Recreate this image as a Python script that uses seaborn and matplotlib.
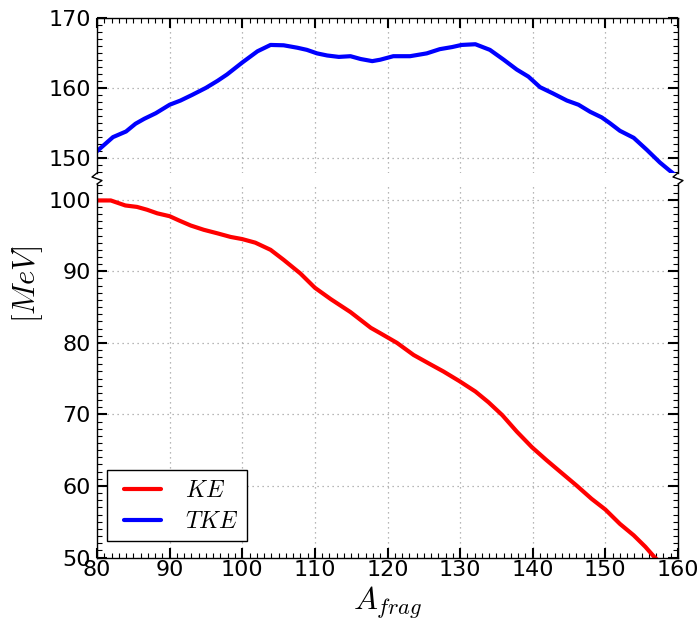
import numpy as np
import pandas as pd
import matplotlib
matplotlib.use("Agg")
import matplotlib.pyplot as plt
from matplotlib.lines import Line2D
from matplotlib.legend_handler import HandlerLine2D
from matplotlib.ticker import MultipleLocator
import seaborn as sns

# ---- data ----
tke_A = [80, 82.2, 84, 85.3, 86.5, 88.1, 90, 91.5, 93.1, 95, 96.6, 97.9, 100, 102.1,
         103.9, 105.7, 107.6, 108.9, 110.3, 111.7, 113.3, 114.9, 116.3, 117.9, 119,
         120.8, 123.1, 125.4, 127.2, 128.9, 130.2, 132.1, 134.1, 136, 137.8, 139.4,
         141, 142.8, 144.7, 146.3, 147.9, 149.5, 150.6, 152, 153.9, 155.7, 157.5,
         158.9, 160]
tke_E = [151.0, 153.0, 153.8, 154.9, 155.6, 156.4, 157.6, 158.2, 159.0, 160.0, 161.0,
         161.9, 163.6, 165.2, 166.1, 166.05, 165.7, 165.4, 164.9, 164.6, 164.4, 164.5,
         164.1, 163.8, 164.0, 164.5, 164.5, 164.9, 165.5, 165.8, 166.1, 166.2, 165.4,
         164.0, 162.6, 161.6, 160.1, 159.2, 158.2, 157.6, 156.6, 155.8, 155.0, 153.9,
         152.9, 151.2, 149.4, 148.2, 147.3]
ke_A = [80, 81.9, 83.9, 85.5, 86.9, 88.3, 90, 91.3, 92.9, 94.7, 96.6, 98.4, 100, 101.8,
        103.9, 105.7, 108, 110, 112.2, 114.9, 117.7, 119, 121.3, 123.6, 125.9, 127.7,
        129.9, 132.1, 133.9, 135.8, 137.8, 139.9, 141.9, 144, 146.1, 148.1, 150, 152,
        153.9, 155.5, 156.8, 158]
ke_E = [99.9, 99.9, 99.2, 99.0, 98.6, 98.1, 97.7, 97.1, 96.4, 95.8, 95.3, 94.8, 94.5,
        94.0, 93.0, 91.6, 89.7, 87.7, 86.1, 84.3, 82.1, 81.35, 80.0, 78.3, 77.0, 76.0,
        74.65, 73.2, 71.7, 69.9, 67.6, 65.4, 63.6, 61.8, 60.0, 58.2, 56.7, 54.7, 53.1,
        51.5, 50.0, 48.9]
series_names = ["KE", "TKE"]
series_labels = [r"$KE$", r"$TKE$"]
series_colors = {"KE": "#ff0000", "TKE": "#0000ff"}
x_ticks = [80, 90, 100, 110, 120, 130, 140, 150, 160]
top_yticks = [150, 160, 170]
bot_yticks = [50, 60, 70, 80, 90, 100]

df = pd.concat([
    pd.DataFrame({"A": ke_A, "E": ke_E, "s": "KE"}),
    pd.DataFrame({"A": tke_A, "E": tke_E, "s": "TKE"}),
], ignore_index=True)

sns.set_style("white")
plt.rcParams["font.family"] = ["DejaVu Sans"]
plt.rcParams["mathtext.fontset"] = "cm"
plt.rcParams["text.color"] = "black"
plt.rcParams["axes.labelcolor"] = "black"
plt.rcParams["xtick.color"] = "black"
plt.rcParams["ytick.color"] = "black"

W, H = 697, 621
fig = plt.figure(figsize=(W / 100, H / 100), dpi=100)

L, R = 97, 678
top_t, top_b = 17.5, 173
bot_t, bot_b = 184, 557.5
ax_top = fig.add_axes([L / W, 1 - top_b / H, (R - L) / W, (top_b - top_t) / H])
ax_bot = fig.add_axes([L / W, 1 - bot_b / H, (R - L) / W, (bot_b - bot_t) / H])

for ax in (ax_top, ax_bot):
    sns.lineplot(data=df, x="A", y="E", hue="s", palette=series_colors,
                 hue_order=series_names, linewidth=3, ax=ax, legend=False,
                 sort=False, estimator=None)
    ax.set_xlim(80, 160)
    ax.xaxis.set_major_locator(MultipleLocator(10))
    ax.xaxis.set_minor_locator(MultipleLocator(1))
    ax.yaxis.set_minor_locator(MultipleLocator(1))
    ax.grid(True, which="major", color="#a0a0a0", linestyle=(0, (1, 3)), linewidth=0.9)
    ax.set_xlabel("")
    ax.set_ylabel("")
    for sp in ax.spines.values():
        sp.set_color("black")
        sp.set_linewidth(1.0)
    ax.tick_params(which="major", direction="in", length=7, width=1.5, color="black",
                   labelcolor="black", labelsize=16, left=True, right=True)
    ax.tick_params(which="minor", direction="in", length=3.5, width=0.8, color="black",
                   left=True, right=True)
    ax.tick_params(axis="y", pad=4.5)
    ax.tick_params(axis="x", pad=2)

ax_top.set_ylim(147.9, 170)
ax_top.set_yticks(top_yticks)
ax_top.set_xticks(x_ticks)
ax_top.spines["bottom"].set_visible(False)
ax_top.tick_params(axis="x", which="both", bottom=False, top=True, labelbottom=False)

ax_bot.set_ylim(50, 102.2)
ax_bot.set_yticks(bot_yticks)
ax_bot.set_xticks(x_ticks)
ax_bot.spines["top"].set_visible(False)
ax_bot.tick_params(axis="x", which="both", bottom=True, top=False, labelbottom=True)
ax_bot.set_xticklabels([str(v) for v in x_ticks])
ax_bot.set_xlabel(r"$A_{frag}$", fontsize=23, labelpad=3, color="black")

fig.text(28 / W, 1 - 284 / H, r"$[MeV]$", rotation=90, fontsize=22,
         ha="center", va="center", color="black")

# legend
handles = [Line2D([], [], color=series_colors[n], linewidth=3) for n in series_names]
leg = ax_bot.legend(handles, series_labels, loc="lower left",
                    bbox_to_anchor=((107 - L) / (R - L), (bot_b - 541) / (bot_b - bot_t)),
                    borderaxespad=0, fontsize=17, frameon=True, fancybox=False,
                    handlelength=1.95, handletextpad=1.05, labelspacing=0.32,
                    borderpad=0.32,
                    handler_map={Line2D: HandlerLine2D(xpad=0.42)})
leg.get_frame().set_edgecolor("black")
leg.get_frame().set_linewidth(1.0)
leg.get_frame().set_alpha(1)
for t in leg.get_texts():
    t.set_color("black")

# axis break marks
for x0 in (L, R):
    xs = [x0, x0 - 5, x0 + 5, x0]
    ys = [top_b, top_b + 4, top_b + 7.5, bot_t]
    fig.add_artist(Line2D([x / W for x in xs], [1 - y / H for y in ys],
                          color="black", linewidth=1.0, transform=fig.transFigure))

fig.savefig("out.png", dpi=100)
